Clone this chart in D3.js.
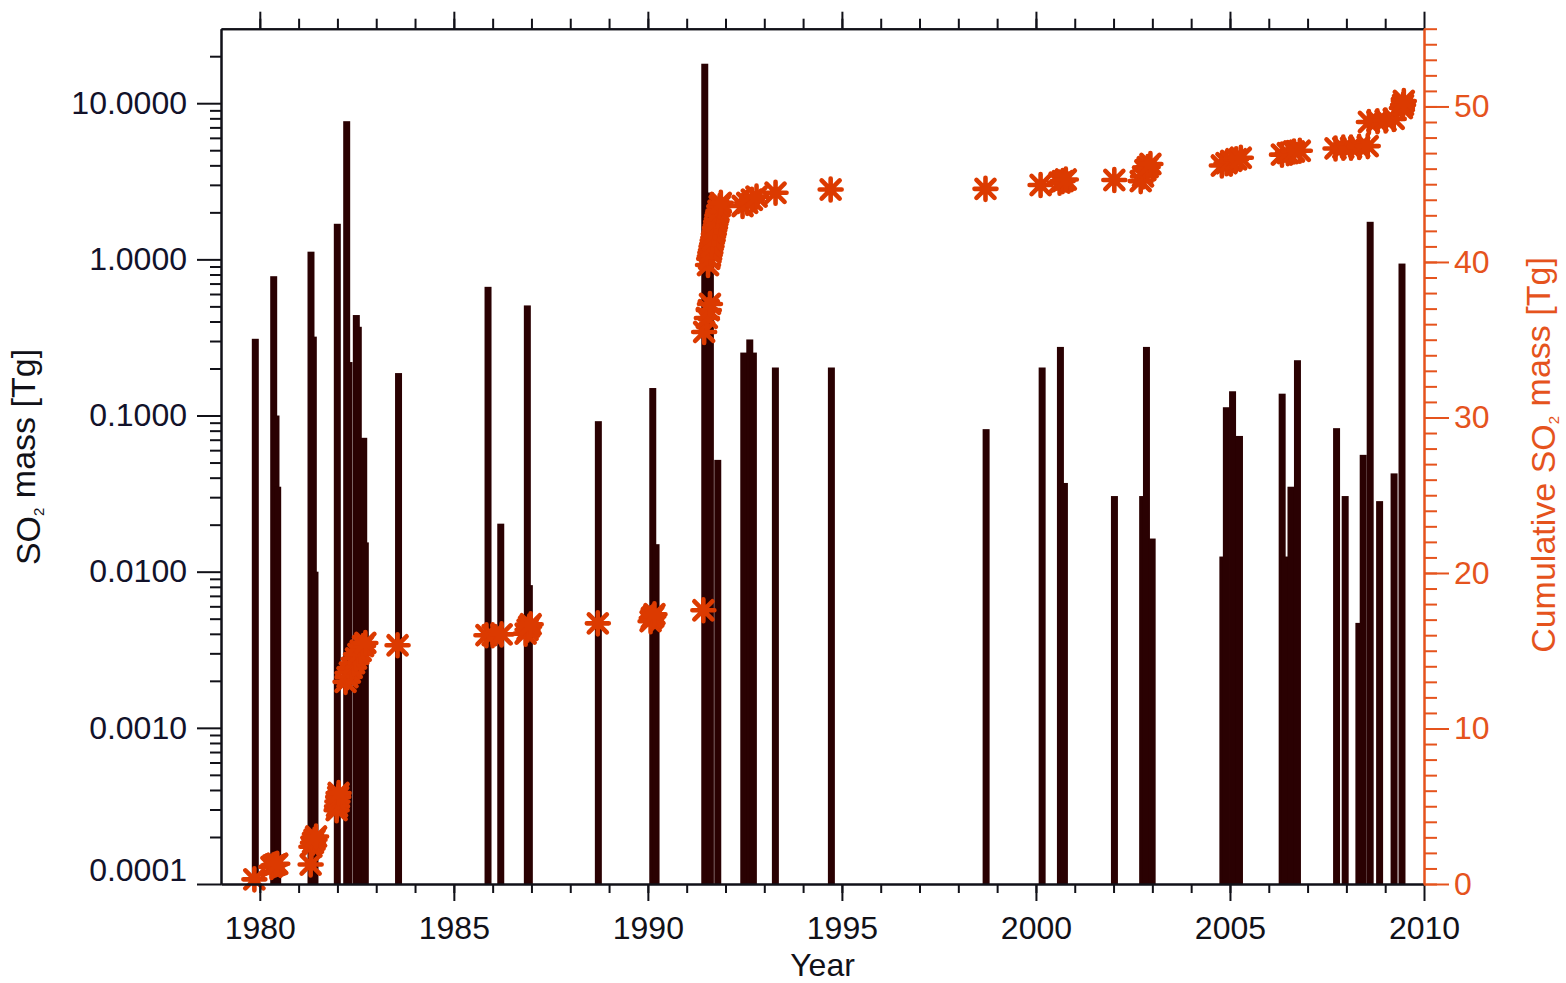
<!DOCTYPE html>
<html>
<head>
<meta charset="utf-8">
<script src="https://cdn.jsdelivr.net/npm/d3@7"></script>
<style>
  body { margin: 0; background: #fff; }
  text { font-family: "Liberation Sans", Arial, Helvetica, sans-serif; }
</style>
</head>
<body>
<div id="chart"></div>
<script>
// Eruption SO2 mass (bars, left log axis)
const barYears = [1979.794, 1980.268, 1980.327, 1980.371, 1981.229, 1981.289, 1981.332, 1981.907,
  1982.149, 1982.209, 1982.397, 1982.448, 1982.588, 1982.629, 1983.485, 1985.791, 1986.119,
  1986.804, 1986.856, 1988.634, 1990.036, 1990.121, 1991.376, 1991.521, 1991.711, 1992.381,
  1992.536, 1992.629, 1993.196, 1994.639, 1998.626, 2000.070, 2000.541, 2000.644, 2001.933,
  2002.660, 2002.758, 2002.905, 2004.727, 2004.817, 2004.977, 2005.155, 2006.255, 2006.340,
  2006.482, 2006.649, 2007.657, 2007.879, 2008.232, 2008.343, 2008.523, 2008.766, 2009.139,
  2009.343];
const barMass = [0.31, 0.78, 0.10, 0.035, 1.12, 0.32, 0.010, 1.69,
  7.67, 0.22, 0.44, 0.37, 0.072, 0.0154, 0.187, 0.667, 0.0203,
  0.507, 0.0082, 0.092, 0.150, 0.015, 17.9, 2.68, 0.052, 0.253,
  0.307, 0.253, 0.203, 0.203, 0.0818, 0.203, 0.275, 0.037, 0.0305,
  0.0305, 0.275, 0.0163, 0.0125, 0.113, 0.143, 0.074, 0.138, 0.0125,
  0.035, 0.226, 0.083, 0.0305, 0.0047, 0.056, 1.74, 0.0283, 0.0426,
  0.94];

// Cumulative SO2 mass (asterisks, right axis)
const cumYears = [1979.86, 1980.30, 1980.35, 1980.40, 1980.45,
  1981.31, 1981.33, 1981.37, 1981.41, 1981.45,
  1981.98, 1981.99, 1982.00, 1982.02, 1982.03,
  1982.21, 1982.26, 1982.32, 1982.37, 1982.43, 1982.48, 1982.54, 1982.60, 1982.66, 1982.72,
  1983.55, 1985.84, 1986.00, 1986.23, 1986.85, 1986.90, 1986.94, 1986.98,
  1988.71, 1990.07, 1990.10, 1990.14, 1990.17, 1991.43,
  1991.45, 1991.52, 1991.57, 1991.60,
  1991.55, 1991.58, 1991.61, 1991.64, 1991.67, 1991.70, 1991.73, 1991.76, 1991.79, 1991.82, 1991.85, 1991.88,
  1992.44, 1992.56, 1992.68, 1992.80, 1993.29, 1994.71, 1998.70, 2000.12,
  2000.61, 2000.69, 2000.77, 2002.02,
  2002.70, 2002.76, 2002.82, 2002.88, 2002.95,
  2004.79, 2004.91, 2005.03, 2005.16, 2005.28,
  2006.34, 2006.49, 2006.65, 2006.80,
  2007.72, 2007.92, 2008.12, 2008.33, 2008.55,
  2008.58, 2008.80, 2009.01, 2009.22,
  2009.43, 2009.46, 2009.48];
const cumMass = [0.3, 1.1, 1.2, 1.25, 1.3,
  1.25, 2.4, 2.65, 2.85, 3.05,
  4.75, 5.0, 5.3, 5.6, 5.85,
  13.0, 13.3, 13.6, 13.9, 14.2, 14.5, 14.8, 15.0, 15.3, 15.5,
  15.35, 16.0, 16.0, 16.05, 16.1, 16.35, 16.55, 16.7,
  16.76, 16.9, 17.1, 17.2, 17.35, 17.6,
  35.5, 36.4, 36.9, 37.3,
  39.8, 40.2, 40.6, 41.0, 41.4, 41.8, 42.2, 42.6, 43.0, 43.3, 43.6, 43.8,
  43.6, 43.8, 44.0, 44.2, 44.45, 44.66, 44.7, 44.95,
  45.1, 45.2, 45.3, 45.27,
  45.2, 45.5, 45.9, 46.1, 46.3,
  46.2, 46.35, 46.5, 46.6, 46.7,
  46.9, 47.0, 47.1, 47.15,
  47.3, 47.35, 47.35, 47.4, 47.45,
  49.0, 49.05, 49.1, 49.2,
  49.9, 50.1, 50.35];

const leftTicks = [0.0001, 0.001, 0.01, 0.1, 1, 10];
const leftTickLabels = ["0.0001", "0.0010", "0.0100", "0.1000", "1.0000", "10.0000"];
const rightTicks = [0, 10, 20, 30, 40, 50];
const yearTicks = [1980, 1985, 1990, 1995, 2000, 2005, 2010];

const BAR_WIDTH = 0.18; // years
const barColor = "#2a0102";
const starColor = "#dc3a00";
const rightColor = "#e5531d";
const inkColor = "#111118";
const tickFont = 32;
const titleFont = 34;

const W = 1566, H = 983;
const margin = { top: 28.7, right: 142, bottom: 99, left: 221 };
const width = W - margin.left - margin.right;
const height = H - margin.top - margin.bottom;

const svg = d3.select("#chart").append("svg")
  .attr("width", W)
  .attr("height", H);
const g = svg.append("g")
  .attr("transform", `translate(${margin.left},${margin.top})`);

const x = d3.scaleLinear().domain([1979, 2010]).range([0, width]);
const yL = d3.scaleLog().domain([1e-4, 30]).range([height, 0]);
const yR = d3.scaleLinear().domain([0, 55]).range([height, 0]);

// bars
g.append("g").selectAll("rect")
  .data(barYears.map((yr, i) => ({ yr, v: barMass[i] })))
  .join("rect")
  .attr("x", d => x(d.yr))
  .attr("width", d => x(d.yr + BAR_WIDTH) - x(d.yr))
  .attr("y", d => yL(d.v))
  .attr("height", d => height - yL(d.v))
  .attr("fill", barColor);

// asterisks
const r = 11, k = 0.82;
const star = `M${-r},0L${r},0M0,${-r}L0,${r}M${-r*k},${-r*k}L${r*k},${r*k}M${-r*k},${r*k}L${r*k},${-r*k}`;
g.append("g").selectAll("path")
  .data(cumYears.map((yr, i) => ({ yr, v: cumMass[i] })))
  .join("path")
  .attr("transform", d => `translate(${x(d.yr)},${yR(d.v)})`)
  .attr("d", star)
  .attr("fill", "none")
  .attr("stroke", starColor)
  .attr("stroke-width", 4.6)
  .attr("stroke-linecap", "round");

// minor tick values
const logMinor = [];
for (let e = -4; e <= 1; e++) {
  for (let m = 2; m <= 9; m++) {
    const v = m * Math.pow(10, e);
    if (v < 30) logMinor.push(v);
  }
}
const yearMinor = d3.range(1980, 2010);
const rightMinor = d3.range(0, 56);

function styleAxis(sel, color) {
  sel.select(".domain").attr("stroke", color).attr("stroke-width", 2);
  sel.selectAll(".tick line").attr("stroke", color).attr("stroke-width", 2);
  sel.selectAll(".tick text")
    .attr("fill", color)
    .style("font-size", tickFont + "px")
    .style("font-family", '"Liberation Sans", Arial, Helvetica, sans-serif');
}

// bottom axis
const xMinorAxis = g.append("g").attr("transform", `translate(0,${height})`)
  .call(d3.axisBottom(x).tickValues(yearMinor).tickSize(9).tickSizeOuter(0).tickFormat(""));
styleAxis(xMinorAxis, inkColor);
const xAxis = g.append("g").attr("transform", `translate(0,${height})`)
  .call(d3.axisBottom(x).tickValues(yearTicks).tickSize(17).tickSizeOuter(0)
    .tickPadding(15).tickFormat(d3.format("d")));
styleAxis(xAxis, inkColor);

// top axis
const xTopMinor = g.append("g")
  .call(d3.axisTop(x).tickValues(yearMinor).tickSize(10).tickSizeOuter(0).tickFormat(""));
styleAxis(xTopMinor, inkColor);
const xTop = g.append("g")
  .call(d3.axisTop(x).tickValues(yearTicks).tickSize(17).tickSizeOuter(0).tickFormat(""));
styleAxis(xTop, inkColor);

// left axis
const yMinor = g.append("g")
  .call(d3.axisLeft(yL).tickValues(logMinor).tickSize(11).tickSizeOuter(0).tickFormat(""));
styleAxis(yMinor, inkColor);
const yAxis = g.append("g")
  .call(d3.axisLeft(yL).tickValues(leftTicks).tickSize(24).tickSizeOuter(0)
    .tickPadding(10).tickFormat((d, i) => leftTickLabels[i]));
styleAxis(yAxis, "#12122a");
yAxis.select(".domain").attr("stroke", inkColor);
yAxis.selectAll(".tick line").attr("stroke", inkColor);
// lowest label sits slightly above its tick
yAxis.selectAll(".tick text").filter(d => d === 1e-4).attr("dy", "-0.1em");

// right axis
const yRMinor = g.append("g").attr("transform", `translate(${width},0)`)
  .call(d3.axisRight(yR).tickValues(rightMinor).tickSize(13).tickSizeOuter(0).tickFormat(""));
styleAxis(yRMinor, rightColor);
const yRAxis = g.append("g").attr("transform", `translate(${width},0)`)
  .call(d3.axisRight(yR).tickValues(rightTicks).tickSize(25).tickSizeOuter(0)
    .tickPadding(5).tickFormat(d3.format("d")));
styleAxis(yRAxis, rightColor);

// axis titles
svg.append("text")
  .attr("x", margin.left + width / 2)
  .attr("y", 976)
  .attr("text-anchor", "middle")
  .attr("fill", inkColor)
  .style("font-size", "32px")
  .text("Year");

function so2Title(sel, prefix, color, cx, cy) {
  const t = sel.append("text")
    .attr("transform", `translate(${cx},${cy}) rotate(-90)`)
    .attr("text-anchor", "middle")
    .attr("dy", "0.35em")
    .attr("fill", color)
    .style("font-size", titleFont + "px");
  t.append("tspan").text(prefix + "SO");
  t.append("tspan").attr("dy", "0.25em").style("font-size", "15px").text("2");
  t.append("tspan").attr("dy", "-0.25em").text(" mass [Tg]");
}
so2Title(svg, "", inkColor, 28, 457);
so2Title(svg, "Cumulative ", rightColor, 1543, 455);
</script>
</body>
</html>
